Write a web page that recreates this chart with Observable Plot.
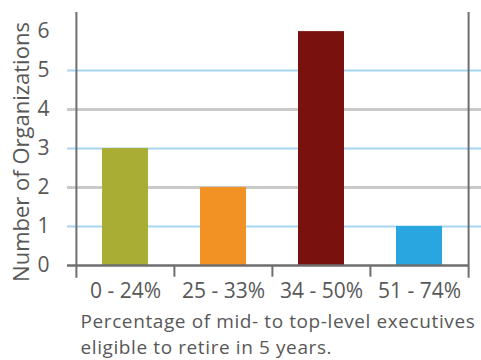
<!DOCTYPE html>
<html>
<head>
<meta charset="utf-8">
<script src="https://cdn.jsdelivr.net/npm/d3@7"></script>
<script src="https://cdn.jsdelivr.net/npm/@observablehq/plot@0.6"></script>
<style>
  html, body { margin: 0; padding: 0; background: #fff; }
  svg { display: block; }
  .xtitle text { letter-spacing: 0.6px; }
</style>
</head>
<body>
<div id="chart"></div>
<script>
const categories = ["0 - 24%", "25 - 33%", "34 - 50%", "51 - 74%"];
const counts = [3, 2, 6, 1];
const barColors = ["#a9ad33", "#f39224", "#79110f", "#29a6e0"];
const yTicks = [0, 1, 2, 3, 4, 5, 6];
const gridValues = [1, 2, 3, 4, 5];
const gridColors = ["#a6d6f1", "#c9c9c9", "#a6d6f1", "#c9c9c9", "#a6d6f1"];
const yTitle = "Number of Organizations";
const xTitle = "Percentage of mid- to top-level executives\neligible to retire in 5 years.";

const data = categories.map((c, i) => ({category: c, count: counts[i], color: barColors[i]}));
const grid = gridValues.map((v, i) => ({v, color: gridColors[i]}));

const font = "'Open Sans', sans-serif";
const textColor = "#585858";
const axisColor = "#6e6e6e";

const chart = Plot.plot({
  width: 481,
  height: 360,
  marginLeft: 76,
  marginRight: 12,
  marginTop: 12,
  marginBottom: 95,
  style: {fontFamily: font, fontSize: "20px", color: textColor, background: "#fff"},
  x: {domain: categories, paddingInner: 0.53, paddingOuter: 0.265, axis: null},
  y: {domain: [0, 6.49], axis: null},
  marks: [
    // gridlines
    Plot.ruleY(grid, {y: "v", stroke: "color", strokeWidth: d => d.v % 2 === 0 ? 3 : 2, insetLeft: -9, insetRight: -12}),
    // bars
    Plot.barY(data, {x: "category", y: "count", fill: "color"}),
    // zero line
    Plot.ruleY([0], {stroke: axisColor, strokeWidth: 2.5, insetLeft: -9}),
    // left and right axis lines
    Plot.ruleX([categories[0]], {x: d => d, y1: -0.33, y2: 6.49, stroke: axisColor, strokeWidth: 2, dx: -49.1}),
    Plot.ruleX([categories[3]], {x: d => d, y1: -0.33, y2: 6.49, stroke: axisColor, strokeWidth: 2, dx: 49.1}),
    // inner boundary ticks
    Plot.ruleX(categories.slice(1), {x: d => d, y1: -0.3, y2: 0, stroke: axisColor, strokeWidth: 2, dx: -49.1}),
    // x tick labels
    Plot.axisX({tickSize: 0, tickPadding: 18, fontSize: 21, label: null, color: textColor}),
    // y tick labels
    Plot.axisY(yTicks, {tickSize: 0, tickPadding: 27, fontSize: 21, label: null, color: textColor}),
    // y title
    Plot.text([yTitle], {frameAnchor: "left", rotate: -90, textAnchor: "middle", lineAnchor: "middle", dx: -55, dy: 13, fontSize: 22, fill: textColor}),
    // x title
    Plot.text([xTitle], {className: "xtitle", frameAnchor: "bottom-left", textAnchor: "start", lineAnchor: "top", dx: 4, dy: 44, lineHeight: 1.36, fontSize: 19, fill: textColor})
  ]
});
document.getElementById("chart").appendChild(chart);
</script>
</body>
</html>
